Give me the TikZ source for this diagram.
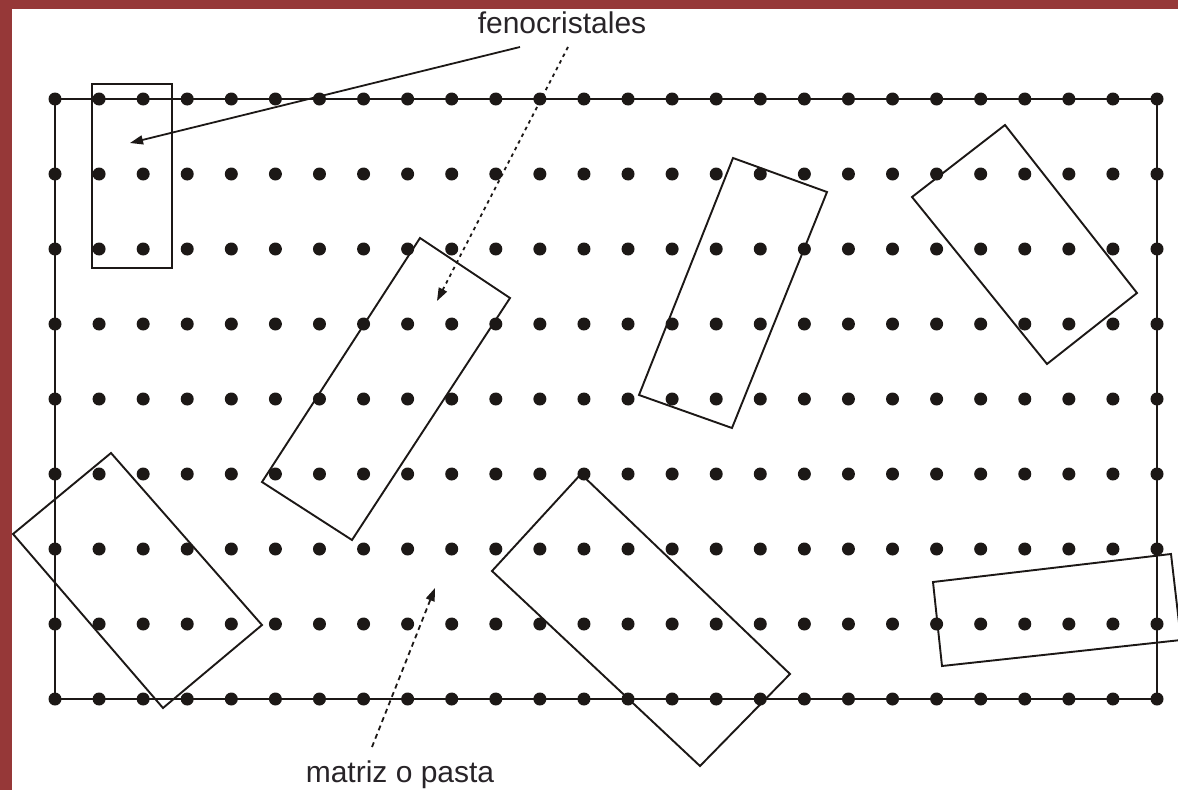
\documentclass[tikz,border=0pt]{standalone}
\usepackage{fontspec}
\setmainfont{Liberation Sans}
\usetikzlibrary{arrows.meta}
\definecolor{bordercol}{RGB}{150,56,56}
\definecolor{ink}{RGB}{28,24,22}
\definecolor{textcol}{RGB}{40,36,40}
\begin{document}
\begin{tikzpicture}[x=1pt,y=-1pt,
  crystal/.style={draw=ink,line width=1.9pt,line join=miter},
  gridframe/.style={draw=ink,line width=2.4pt},
  dotmark/.style={fill=ink},
  label/.style={font=\fontsize{30}{36}\selectfont,text=textcol,inner sep=0pt,anchor=base},
  pointer/.style={draw=ink,line width=1.8pt,-{Triangle[length=13pt,width=9pt]}},
  dotted pointer/.style={pointer,dash pattern=on 3.5pt off 4pt},
  dashed pointer/.style={pointer,dash pattern=on 5pt off 4pt}]
\useasboundingbox (0,0) rectangle (1178,790);
\clip (0,0) rectangle (1178,790);
\fill[white] (0,0) rectangle (1178,790);
\fill[bordercol] (0,0) rectangle (12,790);
\fill[bordercol] (0,0) rectangle (1178,9);

% frame of the matrix
\draw[gridframe] (55,99) rectangle (1157,699);

% dot grid (matrix)
\foreach \i in {0,...,25}{
  \foreach \j in {0,...,8}{
    \fill[dotmark] ({55+\i*44.08},{99+\j*75}) circle (6.5pt);
  }
}

% crystals (phenocrysts)
\draw[crystal] (92,84) rectangle (172,268);
\draw[crystal] (420,238) -- (510,298) -- (352,540) -- (262,482) -- cycle;
\draw[crystal] (733,158) -- (827,192) -- (732,428) -- (639,395) -- cycle;
\draw[crystal] (1005,125) -- (1137,293) -- (1047,364) -- (912,197) -- cycle;
\draw[crystal] (111,453) -- (262,625) -- (163,708) -- (13,534) -- cycle;
\draw[crystal] (581,474) -- (790,674) -- (700,766) -- (492,571) -- cycle;
\draw[crystal] (933,582) -- (1171,554) -- (1181,640) -- (942,666) -- cycle;

% labels
\node[label] (feno) at (562,33) {fenocristales};
\node[label] (matriz) at (400,782) {matriz o pasta};

% pointer ends
\coordinate (f1s) at (520,47);
\coordinate (f1e) at (130,143);
\coordinate (f2s) at (568,47);
\coordinate (f2e) at (437,301);
\coordinate (m1s) at (372,747);
\coordinate (m1e) at (435,588);

\draw[pointer] (f1s) -- (f1e);
\draw[dotted pointer] (f2s) -- (f2e);
\draw[dashed pointer] (m1s) -- (m1e);
\end{tikzpicture}
\end{document}
